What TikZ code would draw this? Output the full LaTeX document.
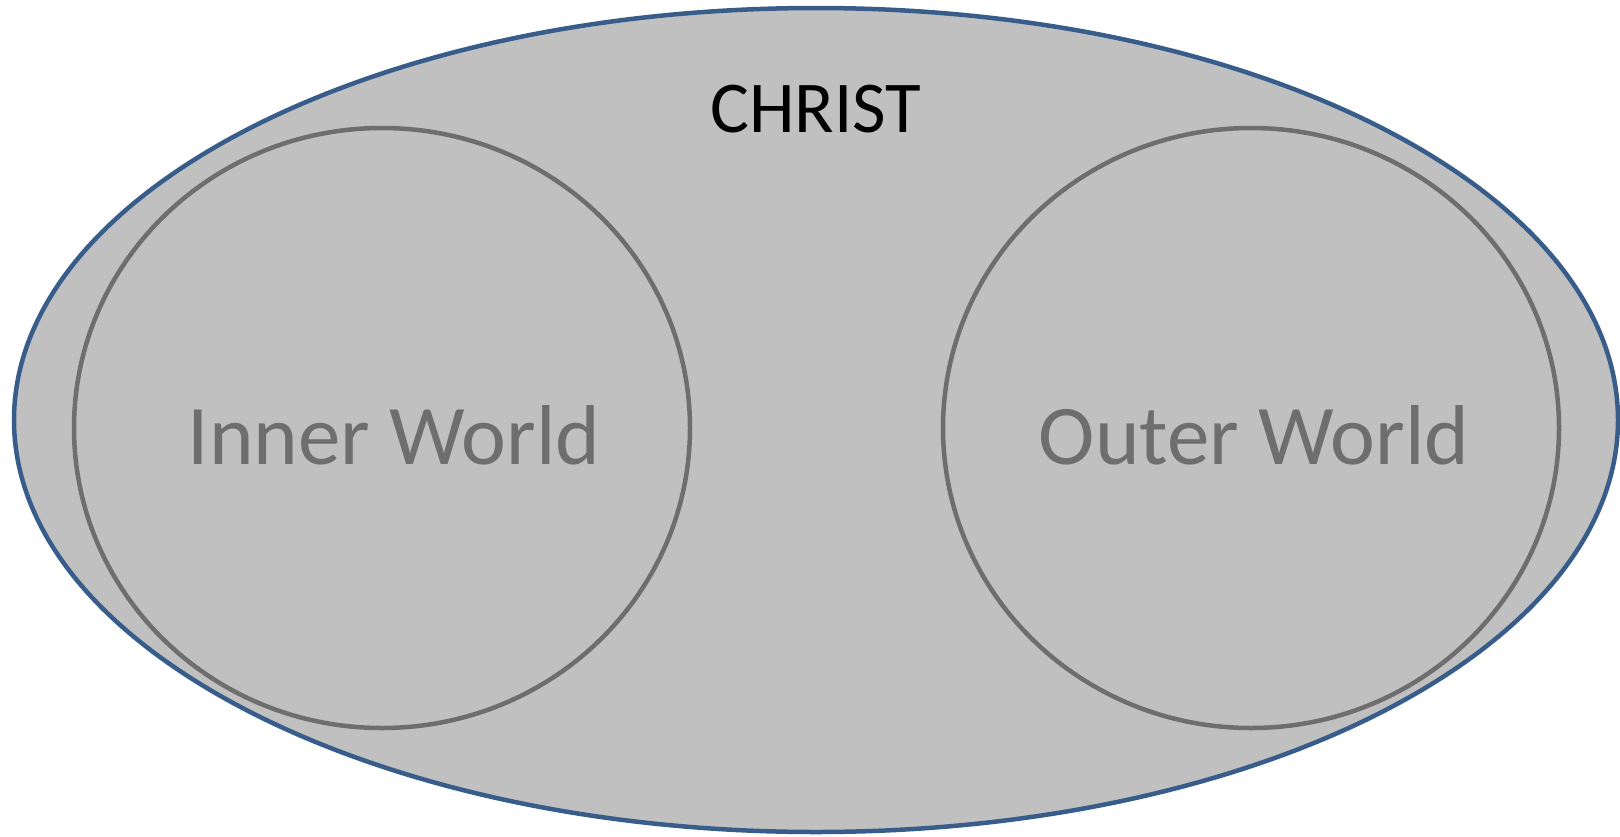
\documentclass[tikz,border=0pt]{standalone}
\usepackage{fontspec}
\setmainfont{Carlito}
\definecolor{fillgray}{HTML}{C0C0C0}
\definecolor{outerblue}{HTML}{385D8A}
\definecolor{circgray}{HTML}{6E6E6E}
\begin{document}
\begin{tikzpicture}[x=1pt,y=-1pt,
  outerring/.style={draw=outerblue,line width=4.5pt,fill=fillgray},
  worldring/.style={draw=circgray,line width=4.5pt},
  worldlabel/.style={text=circgray,font=\fontsize{85}{90}\selectfont,inner sep=0pt},
  titlelabel/.style={text=black,font=\fontsize{73}{80}\selectfont,inner sep=0pt}]
\useasboundingbox (0,0) rectangle (1620,836);
\draw[outerring] (816,420) ellipse [x radius=802, y radius=412];
\draw[worldring] (382,428) ellipse [x radius=308, y radius=300];
\draw[worldring] (1251,428) ellipse [x radius=308, y radius=300];
\node[titlelabel,anchor=base] (christ) at (816,132) {CHRIST};
\node[worldlabel,anchor=base] (inner) at (394,464) {Inner World};
\node[worldlabel,anchor=base] (outer) at (1254,464) {Outer World};
\end{tikzpicture}
\end{document}
